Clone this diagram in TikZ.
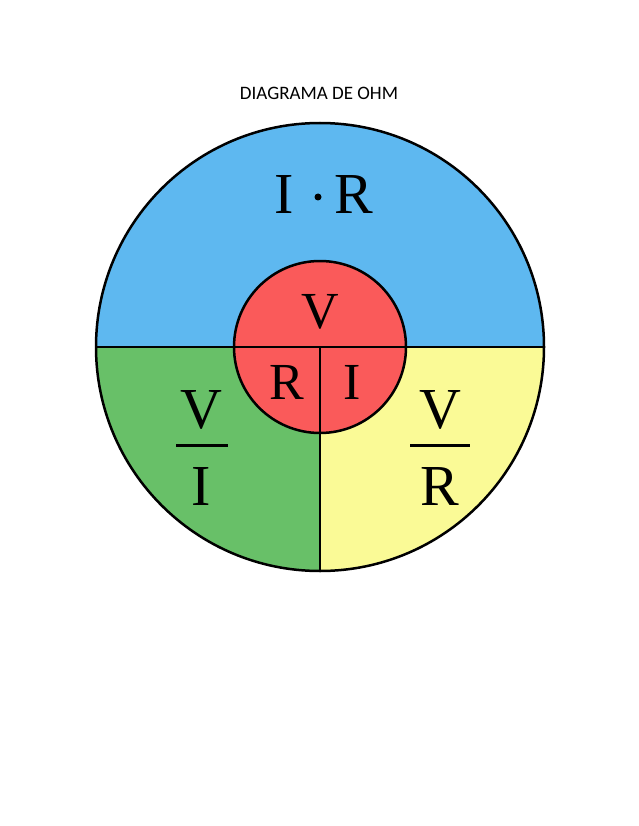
\documentclass[tikz,border=0pt]{standalone}
\usepackage{fontspec}
\setmainfont{Liberation Serif}
\newfontfamily\titlefont{Carlito}
\definecolor{ohmblue}{RGB}{94,184,240}
\definecolor{ohmgreen}{RGB}{104,192,104}
\definecolor{ohmyellow}{RGB}{250,250,150}
\definecolor{ohmred}{RGB}{250,90,90}
\tikzset{bigtxt/.style={font=\fontsize{58}{62}\selectfont},
  midtxt/.style={font=\fontsize{52}{56}\selectfont}}
\begin{document}
\begin{tikzpicture}[x=1pt,y=1pt,line width=2.5pt]
\useasboundingbox (0,0) rectangle (638,-826);
\node[font=\titlefont\fontsize{19}{22}\selectfont] (title) at (319,-93) {DIAGRAMA DE OHM};
% Outer circle quadrants
\coordinate (c) at (320,-347);
\fill[ohmblue] (96,-347) arc[start angle=180,end angle=0,radius=224] -- cycle;
\fill[ohmgreen] (c) -- (96,-347) arc[start angle=180,end angle=270,radius=224] -- cycle;
\fill[ohmyellow] (c) -- (320,-571) arc[start angle=270,end angle=360,radius=224] -- cycle;
\draw (c) circle[radius=224];
\draw (96,-347) -- (544,-347);
\draw (c) -- (320,-571);
% Inner circle
\fill[ohmred] (c) circle[radius=86];
\draw (c) circle[radius=86];
\draw (234,-347) -- (406,-347);
\draw (c) -- (320,-433);
% Labels
\node[bigtxt] (ir-i) at (284,-195) {I};
\node[bigtxt] (ir-r) at (354,-195) {R};
\fill (318,-197) circle[radius=3.5];
\node[midtxt] (v) at (320,-312) {V};
\node[midtxt] (r) at (287,-382) {R};
\node[midtxt] (i) at (352,-382) {I};
% Fractions
\node[bigtxt] (vi-top) at (201,-410) {V};
\node[bigtxt] (vi-bot) at (201,-487) {I};
\draw[line width=3pt] (176,-445) -- (228,-445);
\node[bigtxt] (vr-top) at (440,-410) {V};
\node[bigtxt] (vr-bot) at (440,-487) {R};
\draw[line width=3pt] (410,-445) -- (470,-445);
\end{tikzpicture}
\end{document}
